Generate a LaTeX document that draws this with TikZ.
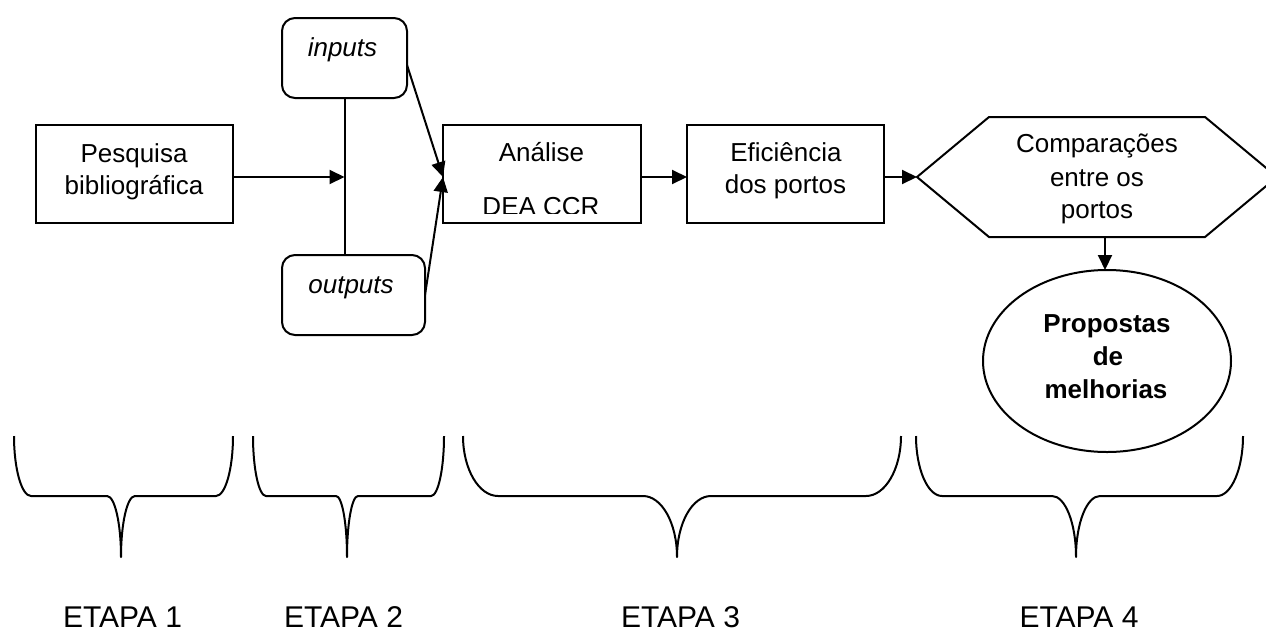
\documentclass[tikz,border=0pt]{standalone}
\usepackage{fontspec}
\setmainfont{Liberation Sans}
\usetikzlibrary{arrows.meta,shapes.geometric,calc}

% curly brace opening downwards: left x, tip x, right x, corner width, middle width
\newcommand\stagebrace[5]{%
  \draw[brace] (#1,436) .. controls (#1,469) and ({#1+0.45*#4},496) .. ({#1+#4},496)
    -- ({#2-#5},496) .. controls ({#2-0.45*#5},496) and (#2,523) .. (#2,557)
    .. controls (#2,523) and ({#2+0.45*#5},496) .. ({#2+#5},496)
    -- ({#3-#4},496) .. controls ({#3-0.45*#4},496) and (#3,469) .. (#3,436);}

\begin{document}
\begin{tikzpicture}[x=1pt,y=-1pt,
  line width=2pt,
  every node/.style={inner sep=0pt, outer sep=0pt},
  body/.style={font=\fontsize{26}{33}\selectfont, anchor=base},
  etapa/.style={font=\fontsize{30}{36}\selectfont, anchor=base},
  frame/.style={draw, fill=white, minimum width=#1},
  roundframe/.style={draw, rounded corners=13pt, minimum width=#1},
  arr/.style={-{Triangle[length=15pt,width=14pt]}},
  brace/.style={line width=2pt, line join=round},
]
\useasboundingbox (0,0) rectangle (1266,632);

% ---- boxes ----
\node[frame=197pt, minimum height=98pt] (pesq) at (134.5,174) {};
\node[body] (pesq1) at (134,162) {Pesquisa};
\node[body] (pesq2) at (134,194) {bibliográfica};

\node[roundframe=125pt, minimum height=80pt] (inp) at (344.5,58) {};
\node[body, font=\fontsize{26}{33}\selectfont\itshape] (inpt) at (342.5,56) {inputs};

\node[roundframe=143pt, minimum height=80pt] (out) at (353.5,295) {};
\node[body, font=\fontsize{26}{33}\selectfont\itshape] (outt) at (351,293) {outputs};

\node[frame=198pt, minimum height=98pt] (anal) at (542,174) {};
\node[body] (anal1) at (541.5,161) {Análise};
\begin{scope}
  \clip (anal.north west) rectangle ([yshift=10pt]anal.south east);
  \node[body] (anal2) at (541,215.5) {DEA CCR};
\end{scope}

\node[frame=197pt, minimum height=98pt] (efic) at (785.5,174) {};
\node[body] (efic1) at (786,161) {Eficiência};
\node[body] (efic2) at (785.5,193) {dos portos};

% hexagon (right vertex runs past the page edge)
\node[minimum width=360pt, minimum height=120pt] (hex) at (1097,177) {};
\draw (hex.west) -- ([xshift=72pt]hex.north west) -- ([xshift=-72pt]hex.north east)
  -- (hex.east) -- ([xshift=-72pt]hex.south east) -- ([xshift=72pt]hex.south west) -- cycle;
\node[body] (hex1) at (1097,152) {Comparações};
\node[body] (hex2) at (1097,186) {entre os};
\node[body] (hex3) at (1097,218) {portos};

\node[draw, ellipse, minimum width=248pt, minimum height=182pt] (ell) at (1107,361) {};
\node[body, font=\fontsize{26}{33}\selectfont\bfseries] (ell1) at (1107,332) {Propostas};
\node[body, font=\fontsize{26}{33}\selectfont\bfseries] (ell2) at (1108,365) {de};
\node[body, font=\fontsize{26}{33}\selectfont\bfseries] (ell3) at (1106,398) {melhorias};

% ---- connectors ----
\coordinate (row) at (0,177);
\coordinate (junc) at (inp.south |- row);
\draw (inp.south) -- (inp.south |- out.north);
\draw[arr] (pesq.east |- row) -- (junc);
\coordinate (anin) at (anal.west |- row);
\draw[arr] ([yshift=-7pt]inp.east) -- (anin);
\draw[arr] (out.east) -- (anin);
\draw[arr] (anal.east |- row) -- (efic.west |- row);
\draw[arr] (efic.east |- row) -- (hex.west);
\draw[arr] ([xshift=8pt]hex.south) -- ([xshift=-2pt]ell.north);

% ---- stage braces ----
\stagebrace{14}{121}{233}{17}{14}
\stagebrace{253}{347}{444}{13}{11}
\stagebrace{463}{677}{901}{35}{34}
\stagebrace{916}{1076}{1243}{26}{24}

\node[etapa] (e1) at (122.5,627) {ETAPA 1};
\node[etapa] (e2) at (343.5,627) {ETAPA 2};
\node[etapa] (e3) at (680.5,627) {ETAPA 3};
\node[etapa] (e4) at (1079,627) {ETAPA 4};
\end{tikzpicture}
\end{document}
